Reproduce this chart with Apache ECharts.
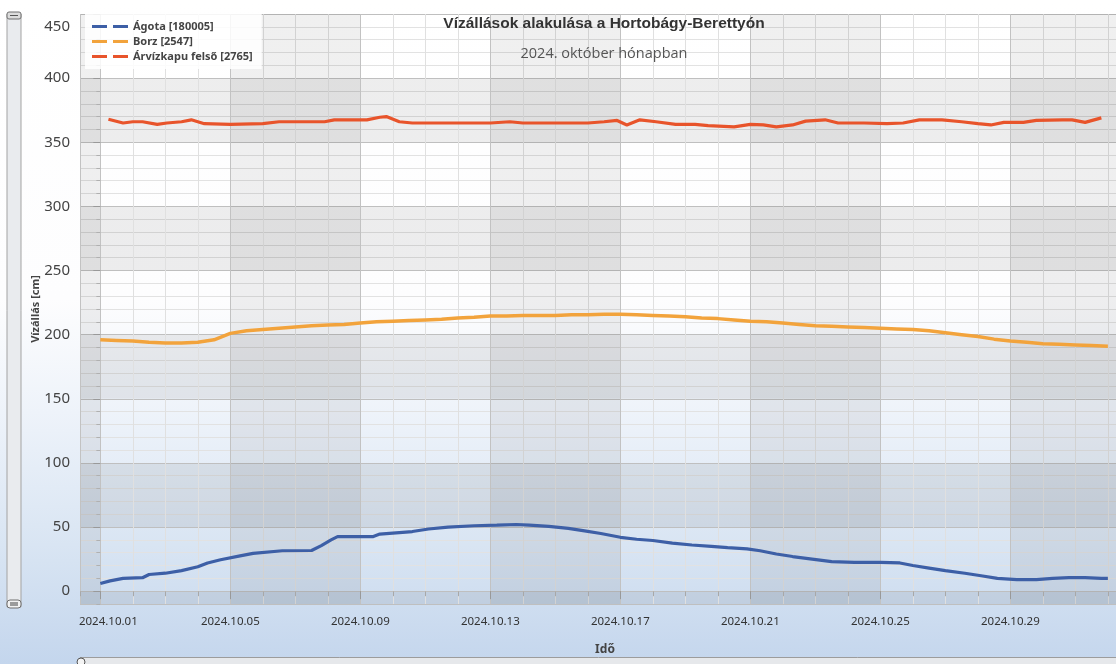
<!DOCTYPE html>
<html>
<head>
<meta charset="utf-8">
<title>Vízállások alakulása a Hortobágy-Berettyón</title>
<script src="https://cdn.jsdelivr.net/npm/echarts@6/dist/echarts.min.js"></script>
<style>
	html, body { margin: 0; padding: 0; }
	body {
		width: 1116px; height: 664px; overflow: hidden;
		background: linear-gradient(to bottom, #ffffff 0%, #fdfdfe 45%, #eef3fa 62%, #d9e5f3 82%, #c4d6ed 100%);
	}
	#chart { width: 1116px; height: 664px; }
</style>
</head>
<body>
<div id="chart"></div>
<script>
"use strict";

// x = days since 2024.10.01 00:00
var SERIES_NAMES = ['Ágota [180005]', 'Borz [2547]', 'Árvízkapu felső [2765]'];
var SERIES_COLORS = ['#3d5fa6', '#f2a33c', '#e8542b'];

var agota = [
	[0, 6], [0.3, 8], [0.7, 10], [1.3, 10.5], [1.5, 13], [2.0, 14], [2.5, 16], [3.0, 19],
	[3.3, 22], [3.7, 24.5], [4.3, 27.5], [4.7, 29.5], [5.6, 31.5], [6.5, 31.7], [6.8, 35.5],
	[7.1, 40], [7.3, 42.5], [8.4, 42.6], [8.6, 44.5], [9.6, 46.5], [10.1, 48.5], [10.7, 50],
	[11.5, 51], [12.2, 51.5], [12.8, 52], [13.2, 51.5], [13.8, 50.5], [14.4, 49], [14.9, 47],
	[15.4, 45], [16.0, 42], [16.5, 40.5], [17.0, 39.5], [17.6, 37.5], [18.2, 36], [18.8, 35],
	[19.3, 34], [19.9, 33], [20.3, 31.5], [20.8, 29], [21.3, 27], [21.9, 25], [22.5, 23],
	[23.2, 22.5], [24.0, 22.5], [24.6, 22], [25.0, 20], [25.5, 18], [26.0, 16], [26.6, 14],
	[27.1, 12], [27.6, 10], [28.2, 9], [28.8, 9], [29.3, 10], [29.8, 10.5], [30.3, 10.5],
	[30.8, 10], [31.0, 10]
];

var borz = [
	[0, 196], [0.5, 195.5], [1, 195], [1.5, 194], [2, 193.5], [2.5, 193.5], [3, 194],
	[3.5, 196], [4, 201], [4.5, 203], [5, 204], [5.5, 205], [6, 206], [6.5, 207], [7, 207.5],
	[7.5, 208], [8, 209], [8.5, 210], [9, 210.5], [9.5, 211], [10, 211.5], [10.5, 212],
	[11, 213], [11.5, 213.5], [12, 214.5], [12.5, 214.5], [13, 215], [13.5, 215], [14, 215],
	[14.5, 215.5], [15, 215.5], [15.5, 216], [16, 216], [16.5, 215.5], [17, 215], [17.5, 214.5],
	[18, 214], [18.5, 213], [19, 212.5], [19.5, 211.5], [20, 210.5], [20.5, 210], [21, 209],
	[21.5, 208], [22, 207], [22.5, 206.5], [23, 206], [23.5, 205.5], [24, 205], [24.5, 204.5],
	[25, 204], [25.5, 203], [26, 201.5], [26.5, 200], [27, 198.5], [27.5, 196.5], [28, 195],
	[28.5, 194], [29, 193], [29.5, 192.5], [30, 192], [30.5, 191.5], [31, 191]
];

var arvizkapu = [
	[0.25, 368], [0.7, 365], [1.0, 366], [1.3, 366], [1.75, 364], [2.05, 365], [2.5, 366],
	[2.8, 367.5], [3.2, 364.5], [4, 364], [5, 364.5], [5.5, 366], [6.9, 366], [7.2, 367.5],
	[8.2, 367.5], [8.6, 369.5], [8.8, 370], [9.2, 366], [9.6, 365], [11, 365], [12, 365],
	[12.6, 366], [13, 365], [14, 365], [15, 365], [15.5, 366], [15.9, 367], [16.2, 363.5],
	[16.6, 367.5], [17.1, 366], [17.7, 364], [18.3, 364], [18.7, 363], [19.5, 362], [20, 364],
	[20.4, 363.5], [20.8, 362], [21.3, 363.5], [21.7, 366.5], [22.3, 367.5], [22.7, 365],
	[23.5, 365], [24.2, 364.5], [24.7, 365], [25.2, 367.5], [25.9, 367.5], [26.5, 366],
	[27, 364.5], [27.4, 363.5], [27.8, 365.5], [28.4, 365.5], [28.8, 367], [29.6, 367.5],
	[29.9, 367.5], [30.3, 365.5], [30.8, 369]
];

var X_MIN = -0.625;
var X_MAX = 31.25;
var Y_MIN = -10;
var Y_MAX = 450;

var LABEL_FONT = 'Noto Sans';
var LEGEND_ICON = 'path://M0,0H15V3H0Z M21,0H36V3H21Z';

function dayLabel(v) {
	var d = Math.round(v) + 1;
	var s = '2024.10.' + (d < 10 ? '0' + d : d);
	if (Math.round(v) === 0) return '{first|' + s + '}';
	return s;
}

function levelLabel(v) {
	if (v === Y_MAX) return '{top|' + v + '}';
	return String(v);
}

var chart = echarts.init(document.getElementById('chart'), null, { renderer: 'canvas' });

var seriesList = [agota, borz, arvizkapu].map(function(data, i) {
	return {
		name: SERIES_NAMES[i],
		type: 'line',
		xAxisIndex: 1,
		yAxisIndex: 1,
		symbol: 'none',
		smooth: false,
		data: data,
		lineStyle: { color: SERIES_COLORS[i], width: i === 1 ? 3.5 : 3.2 },
		itemStyle: { color: SERIES_COLORS[i] },
		z: 5
	};
});

chart.setOption({
	backgroundColor: 'transparent',
	animation: false,
	title: [{
		text: 'Vízállások alakulása a Hortobágy-Berettyón',
		left: 604,
		top: 16,
		textAlign: 'center',
		padding: 0,
		textStyle: { fontFamily: 'Liberation Sans', fontSize: 15.5, fontWeight: 'bold', color: '#333' }
	}, {
		text: '2024. október hónapban',
		left: 604,
		top: 46,
		textAlign: 'center',
		padding: 0,
		textStyle: { fontFamily: 'Open Sans', fontSize: 14.5, fontWeight: 'normal', color: '#555' }
	}],
	legend: {
		orient: 'vertical',
		left: 85,
		top: 14,
		padding: [6, 9, 6, 7],
		icon: LEGEND_ICON,
		itemWidth: 36,
		itemHeight: 3,
		itemGap: 2,
		backgroundColor: 'rgba(255,255,255,0.85)',
		textStyle: { fontFamily: LABEL_FONT, fontSize: 11, lineHeight: 13, fontWeight: 'bold', color: '#444' },
		data: SERIES_NAMES
	},
	grid: { left: 80, top: 14, right: 0, bottom: 60, containLabel: false },
	xAxis: [{
		// daily minor grid
		type: 'value',
		position: 'bottom',
		min: X_MIN,
		max: X_MAX,
		minInterval: 1,
		maxInterval: 1,
		axisLine: { show: false },
		axisTick: { show: true, length: 5, lineStyle: { color: '#a8a8a8' } },
		axisLabel: { show: false },
		splitLine: { show: true, lineStyle: { color: '#e0e0e0', width: 1 } }
	}, {
		type: 'value',
		position: 'bottom',
		min: X_MIN,
		max: X_MAX,
		minInterval: 4,
		maxInterval: 4,
		name: 'Idő',
		nameLocation: 'middle',
		nameGap: 40,
		nameMoveOverlap: false,
		nameTextStyle: { fontFamily: LABEL_FONT, fontSize: 12, fontWeight: 'bold', color: '#444', padding: [0, 0, 0, 14] },
		axisLine: { show: false },
		axisTick: { show: true, length: 8, lineStyle: { color: '#999' } },
		axisLabel: {
			showMinLabel: false,
			showMaxLabel: false,
			margin: 12,
			fontFamily: LABEL_FONT,
			fontSize: 11.5,
			color: '#333',
			formatter: dayLabel,
			rich: {
				first: { fontFamily: LABEL_FONT, fontSize: 11.5, color: '#333', padding: [0, 0, 0, 16] }
			}
		},
		splitLine: { show: true, lineStyle: { color: '#c2c2c2', width: 1 } },
		splitArea: { show: true, areaStyle: { color: ['rgba(0,0,0,0.06)', 'rgba(0,0,0,0)'] } }
	}],
	yAxis: [{
		// minor grid every 10 cm
		type: 'value',
		position: 'left',
		min: Y_MIN,
		max: Y_MAX,
		interval: 10,
		axisLine: { show: false },
		axisTick: { show: true, length: 4, lineStyle: { color: '#b0b0b0' } },
		axisLabel: { show: false },
		splitLine: { show: true, lineStyle: { color: '#e2e2e2', width: 1 } }
	}, {
		type: 'value',
		position: 'left',
		min: Y_MIN,
		max: Y_MAX,
		minInterval: 50,
		maxInterval: 50,
		name: 'Vízállás [cm]',
		nameLocation: 'middle',
		nameGap: 39,
		nameMoveOverlap: false,
		nameTextStyle: { fontFamily: LABEL_FONT, fontSize: 11, fontWeight: 'bold', color: '#444' },
		axisLine: { show: false },
		axisTick: { show: true, length: 7, lineStyle: { color: '#999' } },
		axisLabel: {
			showMinLabel: false,
			margin: 10,
			fontFamily: LABEL_FONT,
			fontSize: 15,
			color: '#444',
			formatter: levelLabel,
			rich: {
				top: { fontFamily: LABEL_FONT, fontSize: 15, color: '#444', padding: [26, 0, 0, 0] }
			}
		},
		splitLine: { show: true, lineStyle: { color: '#bfbfbf', width: 1 } },
		splitArea: { show: true, areaStyle: { color: ['rgba(0,0,0,0.065)', 'rgba(0,0,0,0)'] } }
	}],
	graphic: [
		// vertical scroll bar on the left
		{ type: 'rect', shape: { x: 7, y: 14, width: 14, height: 593 }, style: { fill: '#e9ebee', stroke: '#a3a3a3', lineWidth: 1 }, silent: true },
		{ type: 'rect', shape: { x: 7, y: 12, width: 14, height: 7, r: 2 }, style: { fill: '#dcdcdc', stroke: '#6f6f6f', lineWidth: 1 }, silent: true },
		{ type: 'line', shape: { x1: 10, y1: 15.5, x2: 18, y2: 15.5 }, style: { stroke: '#555', lineWidth: 1 }, silent: true },
		{ type: 'rect', shape: { x: 7, y: 600, width: 14, height: 8, r: 3 }, style: { fill: '#f2f2f2', stroke: '#6f6f6f', lineWidth: 1 }, silent: true },
		{ type: 'line', shape: { x1: 10, y1: 603, x2: 18, y2: 603 }, style: { stroke: '#444', lineWidth: 1 }, silent: true },
		{ type: 'line', shape: { x1: 10, y1: 605, x2: 18, y2: 605 }, style: { stroke: '#444', lineWidth: 1 }, silent: true },
		// horizontal scroll bar at the bottom
		{ type: 'rect', shape: { x: 80, y: 657.5, width: 1040, height: 12 }, style: { fill: '#e6e8eb', stroke: '#9c9c9c', lineWidth: 1 }, silent: true },
		{ type: 'circle', shape: { cx: 81, cy: 662, r: 4 }, style: { fill: '#f4f4f4', stroke: '#555', lineWidth: 1 }, silent: true }
	],
	series: seriesList
});
</script>
</body>
</html>
